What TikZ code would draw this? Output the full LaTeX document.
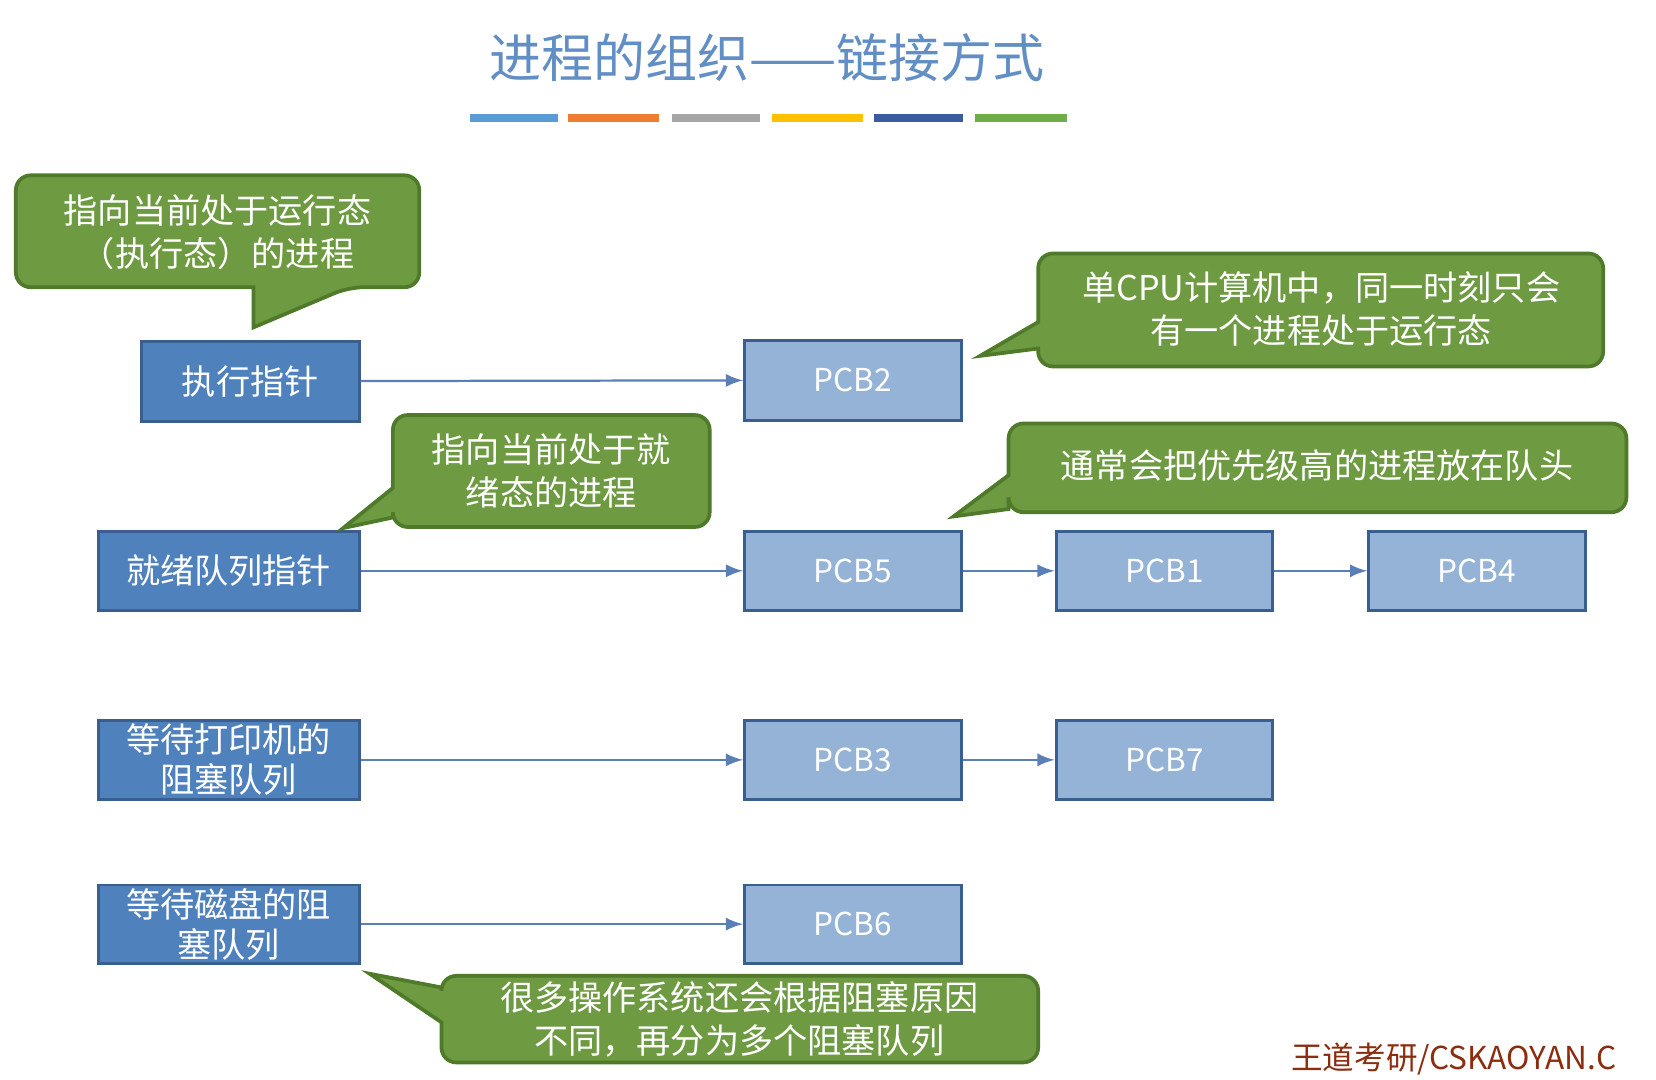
\documentclass[tikz,border=0pt]{standalone}
\usepackage{fontspec}
\setmainfont{Noto Sans CJK SC}
\definecolor{lb}{HTML}{4F81BD}
\definecolor{pb}{HTML}{95B3D7}
\definecolor{bd}{HTML}{3A5F8E}
\definecolor{ar}{HTML}{5A7FB5}
\definecolor{cg}{HTML}{6E9A42}
\definecolor{cgd}{HTML}{4E7A2A}
\definecolor{wmc}{HTML}{8B2E10}
\begin{document}
\begin{tikzpicture}[x=0.01cm,y=-0.01cm,
  lbox/.style={draw=bd, fill=lb, text=white, font=\fontsize{9.2}{10.8}\selectfont, align=center, inner sep=0, line width=0.8pt},
  pcb/.style={draw=bd, fill=pb, text=white, font=\fontsize{8.5}{10}\selectfont, inner sep=0, line width=0.8pt},
  arr/.style={draw=ar, line width=0.6pt, -latex},
  call/.style={fill=cg, draw=cgd, line width=1pt},
  ct/.style={text=white, font=\fontsize{9.2}{11.6}\selectfont, align=center}]
\useasboundingbox (0,0) rectangle (1568,1022);
\fill[white] (0,0) rectangle (1568,1022);
% title
\node[text=lb!90!white, font=\fontsize{14}{16}\selectfont] (title) at (726,55) {进程的组织——链接方式};
\foreach \a/\b/\c in {445/528/5B9BD5,538/624/ED7D31,636/720/A5A5A5,731/817/FFC000,828/912/3A5BA0,923/1010/70AD47}
  {\definecolor{tc}{HTML}{\c}\fill[tc] (\a,108) rectangle (\b,116);}
% left boxes
\node[lbox, minimum width=2.06cm, minimum height=0.76cm] (exec) at (237,361) {执行指针};
\node[lbox, minimum width=2.47cm, minimum height=0.75cm] (ready) at (216.5,540.5) {就绪队列指针};
\node[lbox, minimum width=2.47cm, minimum height=0.75cm] (print) at (216.5,719.5) {等待打印机的\\阻塞队列};
\node[lbox, minimum width=2.47cm, minimum height=0.74cm] (disk) at (216.5,875) {等待磁盘的阻\\塞队列};
% PCBs
\node[pcb, minimum width=2.05cm, minimum height=0.76cm] (p2) at (807.5,360) {PCB2};
\node[pcb, minimum width=2.05cm, minimum height=0.75cm] (p5) at (807.5,540.5) {PCB5};
\node[pcb, minimum width=2.05cm, minimum height=0.75cm] (p1) at (1102.5,540.5) {PCB1};
\node[pcb, minimum width=2.05cm, minimum height=0.75cm] (p4) at (1398.5,540.5) {PCB4};
\node[pcb, minimum width=2.05cm, minimum height=0.75cm] (p3) at (807.5,719.5) {PCB3};
\node[pcb, minimum width=2.05cm, minimum height=0.75cm] (p7) at (1102.5,719.5) {PCB7};
\node[pcb, minimum width=2.05cm, minimum height=0.74cm] (p6) at (807.5,875) {PCB6};
\draw[arr] (exec) -- (p2);
\draw[arr] (ready) -- (p5);
\draw[arr] (p5) -- (p1);
\draw[arr] (p1) -- (p4);
\draw[arr] (print) -- (p3);
\draw[arr] (p3) -- (p7);
\draw[arr] (disk) -- (p6);
% callouts
\draw[call] [rounded corners=4pt] (200,166) -- (397,166) -- (397,272) -- (330,272) [sharp corners] -- (240,310) -- (240,272) [rounded corners=4pt] -- (15,272) -- (15,166) -- cycle;
\node[ct] (c1) at (206,220) {指向当前处于运行态\\（执行态）的进程};
\draw[call] [rounded corners=4pt] (520,393) -- (672,393) -- (672,499) -- (372,499) [sharp corners] -- (372,490) -- (325,500) -- (372,462) [rounded corners=4pt] -- (372,393) -- cycle;
\node[ct] (c2) at (522,446) {指向当前处于就\\绪态的进程};
\draw[call] [rounded corners=4pt] (1250,240) -- (1518,240) -- (1518,347) -- (983,347) [sharp corners] -- (983,330) -- (928,337) -- (983,305) [rounded corners=4pt] -- (983,240) -- cycle;
\node[ct] (c3) at (1251,293) {单CPU计算机中，同一时刻只会\\有一个进程处于运行态};
\draw[call] [rounded corners=4pt] (1250,401) -- (1540,401) -- (1540,485) -- (955,485) [sharp corners] -- (955,482) -- (903,489) -- (955,450) [rounded corners=4pt] -- (955,401) -- cycle;
\node[ct] (c4) at (1247,441) {通常会把优先级高的进程放在队头};
\draw[call] [rounded corners=4pt] (700,924) -- (983,924) -- (983,1006) -- (418,1006) [sharp corners] -- (418,968) -- (350,922) -- (418,935) [rounded corners=4pt] -- (418,924) -- cycle;
\node[ct] (c5) at (700,965) {很多操作系统还会根据阻塞原因\\不同，再分为多个阻塞队列};
% watermark
\node[anchor=west, text=wmc, font=\fontsize{8.5}{10}\selectfont, inner sep=0] (wm) at (1222,1003) {王道考研/CSKAOYAN.C};
\end{tikzpicture}
\end{document}
